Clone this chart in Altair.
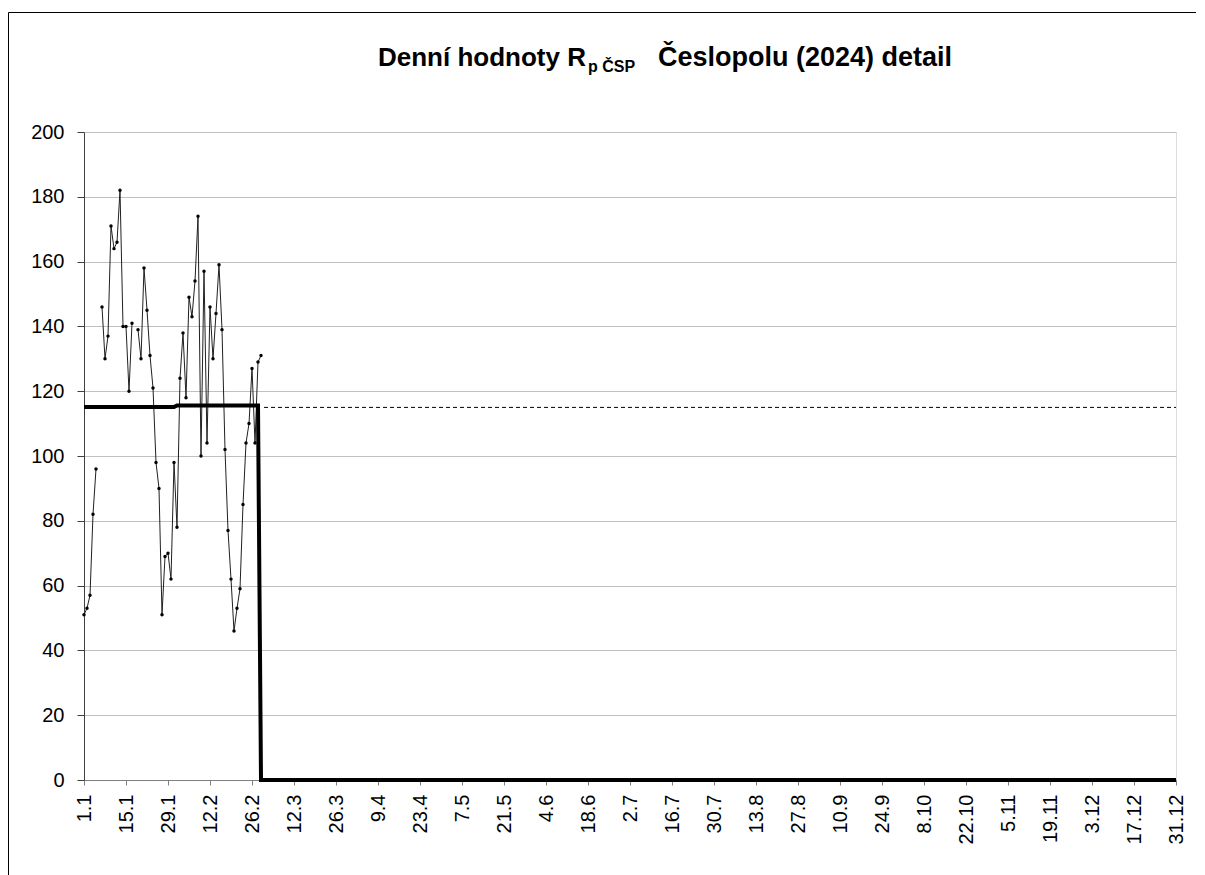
import altair as alt
import pandas as pd

# ---- data ----
daily_values = [51, 53, 57, 82, 96, None, 146, 130, 137, 171, 164, 166, 182, 140, 140, 120, 141, None,
                139, 130, 158, 145, 131, 121, 98, 90, 51, 69, 70, 62, 98,
                78, 124, 138, 118, 149, 143, 154, 174, 100, 157, 104, 146, 130, 144, 159, 139,
                102, 77, 62, 46, 53, 59, 85, 104, 110, 127, 104, 129, 131]
month_lengths = [31, 28, 31, 30, 31, 30, 31, 31, 30, 31, 30, 31]
month_averages = [115.1, 115.6, 0, 0, 0, 0, 0, 0, 0, 0, 0, 0]
year_average = 115.0
year_average_start = 60
tick_labels = ["1.1", "15.1", "29.1", "12.2", "26.2", "12.3", "26.3", "9.4", "23.4", "7.5", "21.5",
               "4.6", "18.6", "2.7", "16.7", "30.7", "13.8", "27.8", "10.9", "24.9", "8.10", "22.10",
               "5.11", "19.11", "3.12", "17.12", "31.12"]
n_days = 365

# ---- tables ----
seg = 0
rows = []
for d, v in enumerate(daily_values):
    if v is None:
        seg += 1
        continue
    rows.append({"day": d, "value": v, "seg": seg})
daily = pd.DataFrame(rows)

avg_rows = []
d = 0
for length, a in zip(month_lengths, month_averages):
    for _ in range(length):
        avg_rows.append({"day": d, "value": a})
        d += 1
monthly = pd.DataFrame(avg_rows)

yearly = pd.DataFrame({"day": [year_average_start, n_days - 1], "value": [year_average, year_average]})

W, H = 1092, 648
FONT = "Liberation Sans"

label_expr = "[" + ",".join("'" + t + "'" for t in tick_labels) + "][round(datum.value / 14)]"

x_scale = alt.Scale(domain=[0, n_days - 1], nice=False, zero=False)
y_scale = alt.Scale(domain=[0, 200], nice=False)

x_axis = alt.Axis(values=list(range(0, n_days, 14)), labelExpr=label_expr, labelAngle=270,
                  labelAlign="right", labelBaseline="middle", labelPadding=9, tickSize=5,
                  tickColor="#808080", domainColor="#808080", grid=False, title=None,
                  labelFont=FONT, labelFontSize=20, labelColor="black")
y_axis = alt.Axis(values=list(range(0, 201, 20)), tickSize=7, tickColor="#404040",
                  domainColor="#404040", gridColor="#c0c0c0", gridWidth=1, title=None,
                  labelFont=FONT, labelFontSize=20, labelColor="black", labelPadding=13)

base_x = alt.X("day:Q", scale=x_scale, axis=x_axis)
base_y = alt.Y("value:Q", scale=y_scale, axis=y_axis)

thin = alt.Chart(daily).mark_line(color="#202020", strokeWidth=1).encode(
    x=base_x, y=base_y, detail="seg:N")
pts = alt.Chart(daily).mark_point(color="black", filled=True, size=12, opacity=1).encode(
    x="day:Q", y="value:Q")
thick = alt.Chart(monthly).mark_line(color="black", strokeWidth=4).encode(x="day:Q", y="value:Q")
dashed = alt.Chart(yearly).mark_line(color="black", strokeWidth=1, strokeDash=[4, 3]).encode(
    x="day:Q", y="value:Q")

one = pd.DataFrame({"a": [0]})
frame_left = alt.Chart(one).mark_rule(color="black", strokeWidth=1).encode(
    x=alt.value(-75.5), y=alt.value(-119.5), y2=alt.value(780))
frame_top = alt.Chart(one).mark_rule(color="black", strokeWidth=1).encode(
    x=alt.value(-75.5), x2=alt.value(1140), y=alt.value(-119.5))

title_main = alt.Chart(one).mark_text(font=FONT, fontSize=26, fontWeight="bold", align="left",
                                      baseline="alphabetic", color="black").encode(
    x=alt.value(294), y=alt.value(-66), text=alt.value("Denní hodnoty R"))
title_sub = alt.Chart(one).mark_text(font=FONT, fontSize=16, fontWeight="bold", align="left",
                                     baseline="alphabetic", color="black").encode(
    x=alt.value(504), y=alt.value(-60), text=alt.value("p ČSP"))
title_rest = alt.Chart(one).mark_text(font=FONT, fontSize=27, fontWeight="bold", align="right",
                                      baseline="alphabetic", color="black").encode(
    x=alt.value(868), y=alt.value(-66), text=alt.value("Česlopolu (2024) detail"))

chart = alt.layer(thin, pts, thick, dashed, frame_left, frame_top, title_main, title_sub, title_rest).properties(
    width=W, height=H,
    autosize=alt.AutoSizeParams(type="none"),
    padding={"left": 76, "top": 124, "right": 20, "bottom": 95},
).configure_view(stroke="#a0a0a0", strokeWidth=1).configure(background="white")

chart.save("out.html", embed_options={"renderer": "svg", "actions": False})
